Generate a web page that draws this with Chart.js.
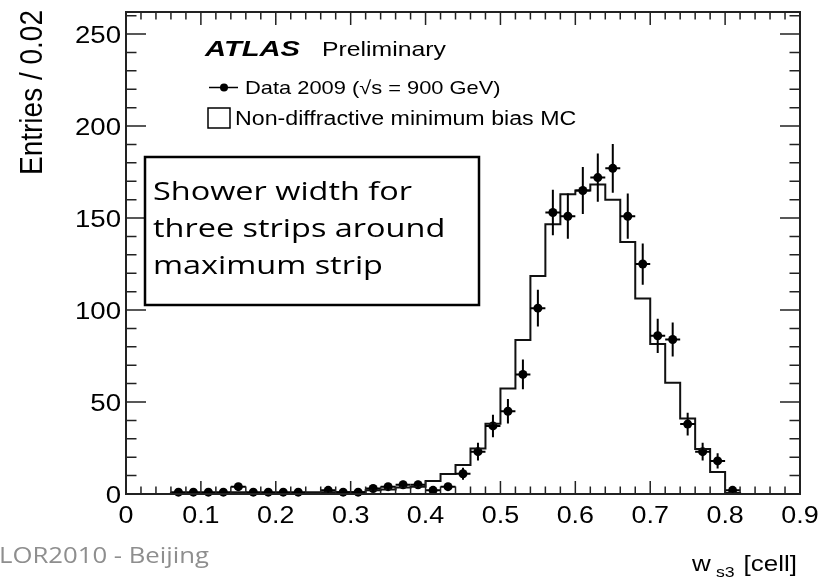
<!DOCTYPE html>
<html>
<head>
<meta charset="utf-8">
<script src="https://cdn.jsdelivr.net/npm/chart.js@4.4.1/dist/chart.umd.min.js"></script>
<style>
  html, body { margin: 0; padding: 0; background: #fff; }
  #wrap { width: 838px; height: 581px; position: relative; }
</style>
</head>
<body>
<div id="wrap"><canvas id="chart"></canvas></div>
<script>
// MC histogram: lower bin edges (width 0.02) and entries per bin
const binLow = [0.00, 0.02, 0.04, 0.06, 0.08, 0.10, 0.12, 0.14, 0.16, 0.18,
                0.20, 0.22, 0.24, 0.26, 0.28, 0.30, 0.32, 0.34, 0.36, 0.38,
                0.40, 0.42, 0.44, 0.46, 0.48, 0.50, 0.52, 0.54, 0.56, 0.58,
                0.60, 0.62, 0.64, 0.66, 0.68, 0.70, 0.72, 0.74, 0.76, 0.78,
                0.80, 0.82, 0.84, 0.86, 0.88];
const mcCounts = [0, 0, 0, 0.5, 0.5, 0.5, 0.5, 1, 0.5, 0.5,
                  0.5, 0.5, 1, 1, 1, 1, 2, 2.5, 3.5, 4,
                  7, 10.9, 15.8, 24.8, 38.2, 57.3, 83.7, 118.5, 146.6, 163,
                  165, 168.3, 160, 137, 106.3, 81.5, 60.5, 41, 24.5, 12,
                  0.5, 0, 0, 0, 0];
const histEnd = 0.9;

// Data 2009: bin centres, entries, vertical errors
const dataX = [0.07, 0.09, 0.11, 0.13, 0.15, 0.17, 0.19, 0.21, 0.23, 0.25,
               0.27, 0.29, 0.31, 0.33, 0.35, 0.37, 0.39, 0.41, 0.43, 0.45,
               0.47, 0.49, 0.51, 0.53, 0.55, 0.57, 0.59, 0.61, 0.63, 0.65,
               0.67, 0.69, 0.71, 0.73, 0.75, 0.77, 0.79, 0.81];
const dataY = [1, 1, 1, 1, 4, 1, 1, 1, 1, null,
               2, 1, 1, 3, 4, 5, 5, 2, 4, 11,
               23, 37, 45, 65, 101, 153, 151, 165, 172, 177,
               151, 125, 86, 84, 38, 23, 18, 2];
const dataErr = [1, 1, 1, 1, 2, 1, 1, 1, 1, null,
                 1.4, 1, 1, 1.7, 2, 2.2, 2.2, 1.4, 2, 3.3,
                 4.8, 6.1, 6.7, 8.1, 10, 12.4, 12.3, 12.8, 13.1, 13.3,
                 12.3, 11.2, 9.3, 9.2, 6.2, 4.8, 4.2, 1.4];
const halfBin = 0.01;

// axis ticks
const xTickValues = [0, 0.1, 0.2, 0.3, 0.4, 0.5, 0.6, 0.7, 0.8, 0.9];
const xTickLabels = ["0", "0.1", "0.2", "0.3", "0.4", "0.5", "0.6", "0.7", "0.8", "0.9"];
const yTickValues = [0, 50, 100, 150, 200, 250];
const yTickLabels = ["0", "50", "100", "150", "200", "250"];

const SANS = '"Liberation Sans", Arial, sans-serif';
const SX = 1.18; // the slide image is a bit wider than tall

function wideText(ctx, txt, x, y, font, align, sx) {
    ctx.save();
    ctx.font = font;
    const w = ctx.measureText(txt).width * sx;
    let x0 = x;
    if (align === 'center') x0 = x - w / 2;
    else if (align === 'right') x0 = x - w;
    ctx.translate(x0, y);
    ctx.scale(sx, 1);
    ctx.textAlign = 'left';
    ctx.fillText(txt, 0, 0);
    ctx.restore();
    return w;
}

const rootStyle = {
    id: 'rootStyle',
    afterDatasetsDraw(chart) {
        const ctx = chart.ctx;
        const xs = chart.scales.x, ys = chart.scales.y;
        // error bars
        ctx.save();
        ctx.strokeStyle = '#000';
        ctx.lineWidth = 2;
        dataX.forEach((x, i) => {
            if (dataY[i] === null) return;
            const px = xs.getPixelForValue(x);
            const py = ys.getPixelForValue(dataY[i]);
            ctx.beginPath();
            ctx.moveTo(xs.getPixelForValue(x - halfBin), py);
            ctx.lineTo(xs.getPixelForValue(x + halfBin), py);
            ctx.moveTo(px, ys.getPixelForValue(dataY[i] + dataErr[i]));
            ctx.lineTo(px, ys.getPixelForValue(Math.max(0, dataY[i] - dataErr[i])));
            ctx.stroke();
        });
        ctx.restore();
    },
    afterDraw(chart) {
        const ctx = chart.ctx;
        const a = chart.chartArea;
        const xs = chart.scales.x, ys = chart.scales.y;

        // frame
        ctx.save();
        ctx.strokeStyle = '#222';
        ctx.lineWidth = 2;
        ctx.strokeRect(a.left, a.top, a.right - a.left, a.bottom - a.top);

        // inner ticks
        ctx.lineWidth = 1.5;
        ctx.beginPath();
        for (let k = 0; k <= 45; k++) {
            const px = xs.getPixelForValue(k * 0.02);
            const len = (k % 5 === 0) ? 13 : 7.5;
            ctx.moveTo(px, a.bottom); ctx.lineTo(px, a.bottom - len);
            ctx.moveTo(px, a.top); ctx.lineTo(px, a.top + len);
        }
        for (let v = 0; v <= 260; v += 10) {
            const py = ys.getPixelForValue(v);
            const len = (v % 50 === 0) ? 20 : 10.5;
            ctx.moveTo(a.left, py); ctx.lineTo(a.left + len, py);
            ctx.moveTo(a.right, py); ctx.lineTo(a.right - len, py);
        }
        ctx.stroke();
        ctx.restore();

        // tick labels
        ctx.save();
        ctx.fillStyle = '#000';
        ctx.textBaseline = 'alphabetic';
        xTickValues.forEach((v, i) => {
            wideText(ctx, xTickLabels[i], xs.getPixelForValue(v), 522.5, '24px ' + SANS, 'center', 1.12);
        });
        ctx.textBaseline = 'middle';
        yTickValues.forEach((v, i) => {
            wideText(ctx, yTickLabels[i], 121, ys.getPixelForValue(v) + 2, '24px ' + SANS, 'right', 1.15);
        });

        // axis titles
        ctx.textBaseline = 'alphabetic';
        ctx.save();
        ctx.translate(42, 10);
        ctx.rotate(-Math.PI / 2);
        ctx.scale(1, 1.1);
        ctx.font = '28px ' + SANS;
        ctx.textAlign = 'right';
        ctx.fillText('Entries / 0.02', 0, 0);
        ctx.restore();

        wideText(ctx, 'w', 692, 571, '22px ' + SANS, 'left', SX);
        wideText(ctx, 's3', 716, 577, '15px ' + SANS, 'left', SX);
        wideText(ctx, '[cell]', 797, 571, '22px ' + SANS, 'right', SX);

        // ATLAS label and legend
        ctx.font = 'italic bold 22px ' + SANS;
        const atlasW = ctx.measureText('ATLAS').width;
        wideText(ctx, 'ATLAS', 205, 56, 'italic bold 22px ' + SANS, 'left', 95 / atlasW);
        wideText(ctx, 'Preliminary', 322, 56, '21px ' + SANS, 'left', SX);

        ctx.strokeStyle = '#000';
        ctx.lineWidth = 1.5;
        ctx.beginPath();
        ctx.moveTo(209, 87.5); ctx.lineTo(238, 87.5);
        ctx.stroke();
        ctx.beginPath();
        ctx.arc(224, 87.5, 4, 0, Math.PI * 2);
        ctx.fill();
        wideText(ctx, 'Data 2009 (\u221As = 900 GeV)', 245, 94, '19px ' + SANS, 'left', 1.15);

        ctx.strokeRect(208, 108, 22, 20);
        wideText(ctx, 'Non-diffractive minimum bias MC', 235, 125, '20px ' + SANS, 'left', 1.16);

        // annotation box
        ctx.fillStyle = '#fff';
        ctx.fillRect(145, 157, 334, 148);
        ctx.strokeStyle = '#000';
        ctx.lineWidth = 2.5;
        ctx.strokeRect(145, 157, 334, 148);
        ctx.fillStyle = '#000';
        const boxFont = '26px "Open Sans", sans-serif';
        ctx.font = boxFont;
        const bsx = 259 / ctx.measureText('Shower width for').width;
        wideText(ctx, 'Shower width for', 153, 200, boxFont, 'left', bsx);
        wideText(ctx, 'three strips around', 153, 237, boxFont, 'left', bsx);
        wideText(ctx, 'maximum strip', 153, 274, boxFont, 'left', bsx);

        // slide footer
        ctx.fillStyle = '#8e8e8e';
        const footFont = '22px "Open Sans", sans-serif';
        ctx.font = footFont;
        const fsx = 210 / ctx.measureText('LOR2010 - Beijing').width;
        wideText(ctx, 'CALOR2010 - Beijing', 209, 563, footFont, 'right', fsx);
        ctx.restore();
    }
};

const histPoints = binLow.map((x, i) => ({ x: x, y: mcCounts[i] }));
histPoints.push({ x: histEnd, y: mcCounts[mcCounts.length - 1] });

const dataPoints = dataX.map((x, i) => ({ x: x, y: dataY[i] }));

new Chart(document.getElementById('chart'), {
    type: 'scatter',
    data: {
        datasets: [{
            type: 'line',
            label: 'Non-diffractive minimum bias MC',
            data: histPoints,
            stepped: 'before',
            borderColor: '#111',
            borderWidth: 2,
            pointRadius: 0,
            fill: false,
            clip: false
        }, {
            label: 'Data 2009',
            data: dataPoints,
            pointRadius: 4.5,
            pointBackgroundColor: '#000',
            pointBorderWidth: 0,
            clip: false
        }]
    },
    options: {
        responsive: true,
        maintainAspectRatio: false,
        animation: false,
        layout: { padding: { left: 126, right: 38, top: 12, bottom: 87 } },
        plugins: {
            legend: { display: false },
            tooltip: { enabled: false }
        },
        scales: {
            x: { type: 'linear', min: 0, max: 0.9, display: false },
            y: { type: 'linear', min: 0, max: 262, display: false }
        }
    },
    plugins: [rootStyle]
});
</script>
</body>
</html>
